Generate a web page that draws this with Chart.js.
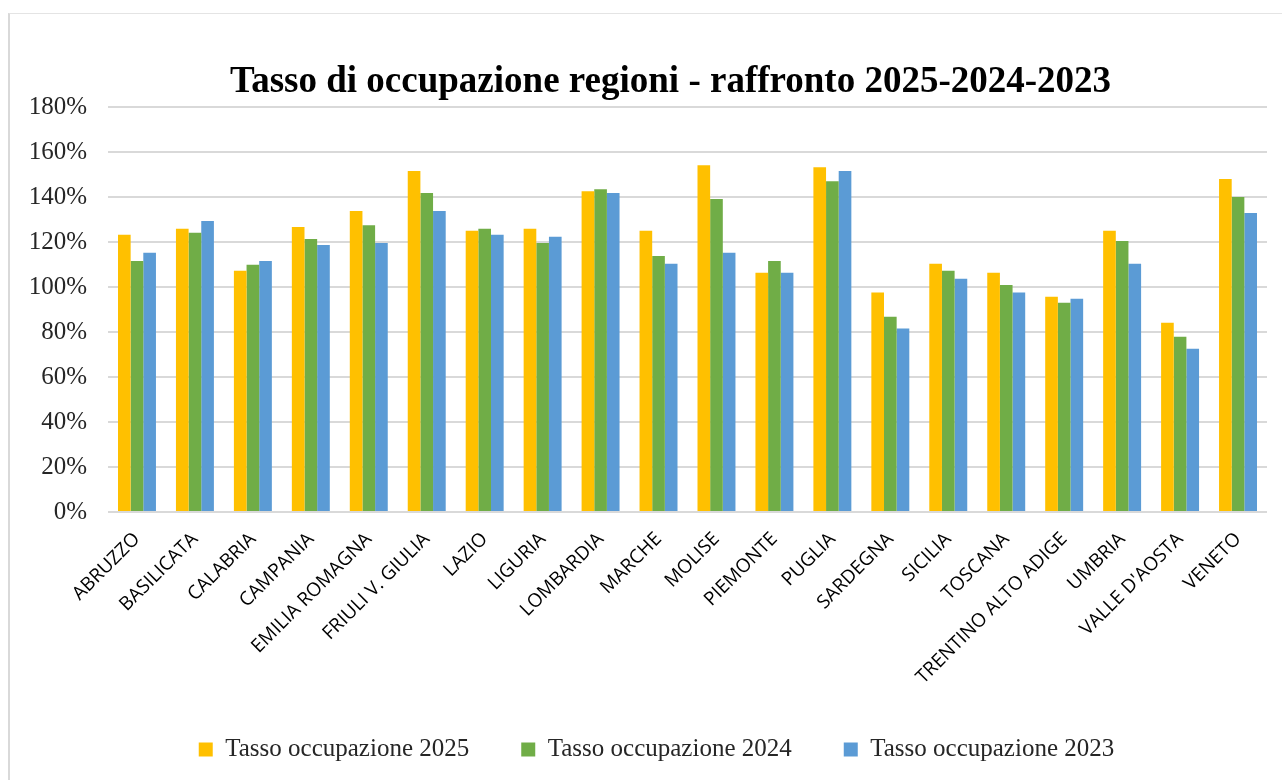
<!DOCTYPE html>
<html lang="it">
<head>
<meta charset="utf-8">
<title>Tasso di occupazione regioni</title>
<script src="https://cdn.jsdelivr.net/npm/chart.js@4.4.1/dist/chart.umd.min.js"></script>
<style>
  html, body { margin: 0; padding: 0; background: #ffffff; }
  #wrap { position: relative; width: 1282px; height: 780px; overflow: hidden; }
  #frame {
    position: absolute; left: 8px; top: 13px; right: -4px; bottom: -4px;
    border-left: 2px solid #d9d9d9; border-top: 1px solid #e4e4e4;
  }
  #chart { position: absolute; left: 0; top: 0; }
</style>
</head>
<body>
<div id="wrap">
  <div id="frame"></div>
  <canvas id="chart" width="1282" height="780"></canvas>
</div>
<script>
// dati (valori in %)
const regions = [
  'ABRUZZO', 'BASILICATA', 'CALABRIA', 'CAMPANIA', 'EMILIA ROMAGNA',
  'FRIULI V. GIULIA', 'LAZIO', 'LIGURIA', 'LOMBARDIA', 'MARCHE',
  'MOLISE', 'PIEMONTE', 'PUGLIA', 'SARDEGNA', 'SICILIA',
  'TOSCANA', 'TRENTINO ALTO ADIGE', 'UMBRIA', "VALLE D'AOSTA", 'VENETO'
];
const tasso2025 = [123.3, 126.0, 107.3, 126.8, 133.9, 151.7, 125.1, 126.0, 142.7, 125.1,
                   154.3, 106.4, 153.4, 97.6, 110.4, 106.4, 95.8, 125.1, 84.2, 148.1];
const tasso2024 = [111.7, 124.2, 110.0, 121.5, 127.6, 141.9, 126.0, 119.7, 143.6, 113.9,
                   139.2, 111.7, 147.2, 86.9, 107.3, 101.0, 93.1, 120.6, 78.0, 140.1];
const tasso2023 = [115.3, 129.5, 111.7, 118.8, 119.7, 133.9, 123.3, 122.4, 141.9, 110.4,
                   115.3, 106.4, 151.7, 81.6, 103.8, 97.6, 94.9, 110.4, 72.6, 133.0];
const yTicks = [0, 20, 40, 60, 80, 100, 120, 140, 160, 180];

const serif = "'Liberation Serif', 'DejaVu Serif', serif";
const sans = "'Open Sans', 'Liberation Sans', sans-serif";

// Excel centra titolo e legenda un po' più a destra
const shiftBoxes = {
  id: 'shiftBoxes',
  afterLayout: function (chart) {
    chart.titleBlock.left += 37;
    chart.titleBlock.right += 37;
    chart.legend.left += 23;
    chart.legend.right += 23;
  }
};

document.addEventListener('DOMContentLoaded', function () {
  const ctx = document.getElementById('chart').getContext('2d');

  const data = {
    labels: regions,
    datasets: [
      { label: 'Tasso occupazione 2025', data: tasso2025, backgroundColor: '#FFC000' },
      { label: 'Tasso occupazione 2024', data: tasso2024, backgroundColor: '#70AD47' },
      { label: 'Tasso occupazione 2023', data: tasso2023, backgroundColor: '#5B9BD5' }
    ]
  };

  const config = {
    type: 'bar',
    data: data,
    plugins: [shiftBoxes],
    options: {
      responsive: false,
      animation: false,
      layout: { padding: { left: 0, right: 15, top: 0, bottom: 8 } },
      datasets: {
        bar: { categoryPercentage: 0.655, barPercentage: 1.0, borderWidth: 0 }
      },
      plugins: {
        title: {
          display: true,
          text: 'Tasso di occupazione regioni - raffronto 2025-2024-2023',
          color: '#000000',
          font: { family: serif, size: 37, weight: 'bold' },
          padding: { top: 60, bottom: 3 }
        },
        legend: {
          position: 'bottom',
          labels: {
            color: '#262626',
            font: { family: serif, size: 25 },
            boxWidth: 14,
            boxHeight: 14,
            padding: 52
          }
        },
        tooltip: { enabled: false }
      },
      scales: {
        x: {
          grid: { display: false },
          border: { display: false },
          ticks: {
            color: '#000000',
            font: { family: sans, size: 19 },
            minRotation: 45,
            maxRotation: 45,
            autoSkip: false,
            padding: 8
          },
          afterFit: function (scale) { scale.height = 173; }
        },
        y: {
          min: 0,
          max: 180,
          afterBuildTicks: function (scale) {
            scale.ticks = yTicks.map(function (v) { return { value: v }; });
          },
          grid: { color: '#d9d9d9', lineWidth: 2, drawTicks: false },
          border: { display: false },
          ticks: {
            color: '#262626',
            font: { family: serif, size: 25 },
            padding: 21,
            callback: function (v) { return v + '%'; }
          },
          afterFit: function (scale) { scale.width = 108; }
        }
      }
    }
  };

  new Chart(ctx, config);
});
</script>
</body>
</html>
